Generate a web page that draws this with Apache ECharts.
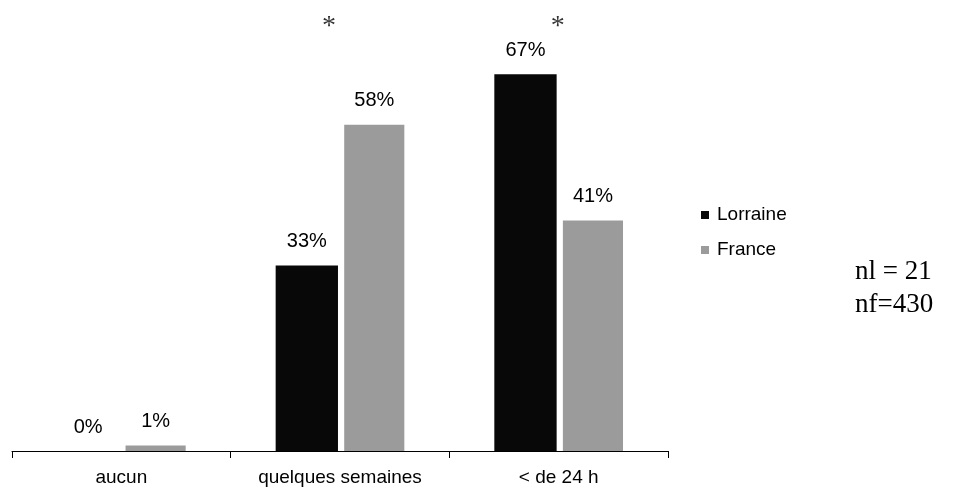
<!DOCTYPE html>
<html><head><meta charset="utf-8">
<script src="https://cdn.jsdelivr.net/npm/echarts@6/dist/echarts.min.js"></script>
<style>html,body{margin:0;padding:0;background:#fff}#c{width:959px;height:496px}</style>
</head><body><div id="c"></div>
<script>
const categories = ['aucun', 'quelques semaines', '< de 24 h'];
const lorraine = [0, 33, 67];
const france = [1, 58, 41];
const stars = [null, 75.5, 75.5];
const notes = ['nl = 21', 'nf=430'];

const chart = echarts.init(document.getElementById('c'));
const font = 'Liberation Sans, Arial, sans-serif';
const serif = 'Liberation Serif, Times New Roman, serif';
const starOffsets = [0, -11, -1];
chart.setOption({
  animation: false,
  backgroundColor: '#fff',
  grid: { left: 12, right: 291, top: 1, bottom: 45 },
  legend: {
    orient: 'vertical', left: 696, top: 200, itemWidth: 8, itemHeight: 8, itemGap: 15,
    icon: 'rect',
    textStyle: { fontFamily: font, fontSize: 19, lineHeight: 20, color: '#000', padding: [0, 0, 0, 3] },
    data: ['Lorraine', 'France']
  },
  xAxis: {
    type: 'category', data: categories,
    axisLine: { lineStyle: { color: '#000', width: 1 } },
    axisTick: { show: true, interval: 0, length: 7, lineStyle: { color: '#000' } },
    axisLabel: { interval: 0, fontFamily: font, fontSize: 19, color: '#000', margin: 17 }
  },
  yAxis: { type: 'value', min: 0, max: 80, show: false },
  series: [
    {
      name: 'Lorraine', type: 'bar', data: lorraine, barWidth: '28.5%', barGap: '10%',
      itemStyle: { color: '#080808' },
      label: { show: true, position: 'top', distance: 14, formatter: '{c}%', fontFamily: font, fontSize: 20, color: '#000' }
    },
    {
      name: 'France', type: 'bar', data: france, barWidth: '27.5%',
      itemStyle: { color: '#9b9b9b' },
      label: { show: true, position: 'top', distance: 14, formatter: '{c}%', fontFamily: font, fontSize: 20, color: '#000' }
    },
    {
      name: 'stars', type: 'scatter', symbolSize: 0, silent: true,
      data: stars.map((v, i) => ({ value: v, label: { offset: [starOffsets[i], 0] } })),
      label: { show: true, position: 'inside', formatter: '*', fontFamily: serif, fontSize: 28, color: '#000' }
    }
  ],
  graphic: [
    { type: 'text', left: 855, top: 258, style: { text: notes[0], fontFamily: serif, fontSize: 27, fill: '#000' } },
    { type: 'text', left: 855, top: 291, style: { text: notes[1], fontFamily: serif, fontSize: 27, fill: '#000' } }
  ]
});
</script></body></html>
